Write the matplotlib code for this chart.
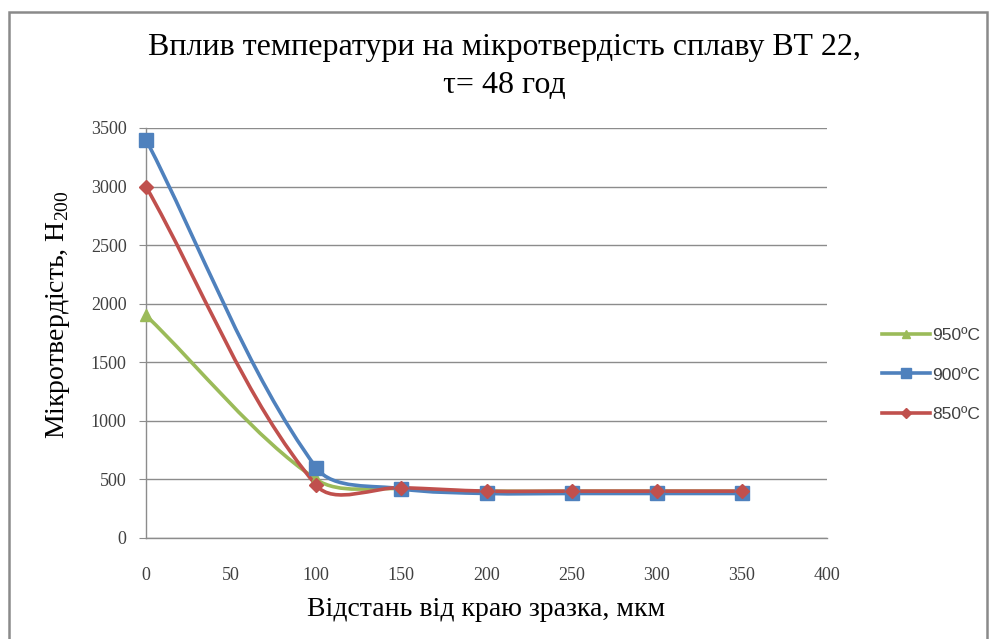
import numpy as np
import matplotlib.pyplot as plt
from matplotlib.path import Path
from matplotlib.patches import PathPatch, Rectangle
from matplotlib.lines import Line2D

plt.rcParams['mathtext.fontset'] = 'custom'
plt.rcParams['mathtext.rm'] = 'Liberation Serif'

# distance from the sample edge, um
distance = [0, 100, 150, 200, 250, 300, 350]

# microhardness H200 for each annealing temperature
h_950 = [1900, 500, 420, 400, 400, 400, 400]
h_900 = [3400, 600, 420, 380, 380, 380, 380]
h_850 = [3000, 450, 430, 400, 400, 400, 400]

series_labels = ['950ºC', '900ºC', '850ºC']

GREEN = '#9BBB59'
BLUE = '#4F81BD'
RED = '#C0504D'


def smooth_path(ax, xs, ys, tension=0.32):
    # excel-like smoothed line: cubic bezier through the points,
    # tangents worked out in screen space so the shape looks right
    pts = ax.transData.transform(np.column_stack([xs, ys]))
    n = len(pts)
    verts = [pts[0]]
    codes = [Path.MOVETO]
    for i in range(n - 1):
        p0 = pts[i]
        p1 = pts[i + 1]
        seg = np.hypot(*(p1 - p0))
        if i == 0:
            d0 = p1 - p0
        else:
            d0 = p1 - pts[i - 1]
        if i + 2 < n:
            d1 = pts[i + 2] - p0
        else:
            d1 = p1 - p0
        d0 = d0 / np.hypot(*d0)
        d1 = d1 / np.hypot(*d1)
        c1 = p0 + tension * seg * d0
        c2 = p1 - tension * seg * d1
        verts += [c1, c2, p1]
        codes += [Path.CURVE4] * 3
    verts = ax.transData.inverted().transform(np.array(verts))
    return Path(verts, codes)


fig = plt.figure(figsize=(9.96, 6.39), dpi=100)
ax = fig.add_axes([146 / 996, 1 - 538 / 639, (827 - 146) / 996, (538 - 128) / 639])

ax.set_xlim(0, 400)
ax.set_ylim(0, 3500)
ax.set_xticks(np.arange(0, 401, 50))
ax.set_yticks(np.arange(0, 3501, 500))

ax.grid(axis='y', color='#8C8C8C', linewidth=1.0)
ax.set_axisbelow(True)
for side in ['top', 'right']:
    ax.spines[side].set_visible(False)
for side in ['left', 'bottom']:
    ax.spines[side].set_color('#8C8C8C')
    ax.spines[side].set_linewidth(1.0)

ax.tick_params(axis='y', direction='out', length=5, color='#8C8C8C', pad=9)
ax.tick_params(axis='x', direction='out', length=0, pad=21)
for lab in ax.get_xticklabels() + ax.get_yticklabels():
    lab.set_fontfamily('Liberation Serif')
    lab.set_fontsize(13)
    lab.set_color('#404040')

series = [
    (h_950, GREEN, '^', 9),
    (h_900, BLUE, 's', 10),
    (h_850, RED, 'D', 7.5),
]
handles = []
for (vals, col, mk, ms), lbl in zip(series, series_labels):
    path = smooth_path(ax, distance, vals)
    ax.add_patch(PathPatch(path, facecolor='none', edgecolor=col, linewidth=2.6,
                           capstyle='round', joinstyle='round', zorder=3))
    ax.plot(distance, vals, linestyle='none', marker=mk, markersize=ms,
            color=col, markeredgecolor=col, zorder=4, clip_on=False)
    handles.append(Line2D([], [], color=col, linewidth=2.6, marker=mk,
                          markersize=ms * 0.7, label=lbl))

leg = fig.legend(handles=handles, loc='center left', bbox_to_anchor=(866 / 996, 1 - 375 / 639),
                 frameon=False, handlelength=2.8, handletextpad=0.1, labelspacing=1.4,
                 prop={'family': 'Liberation Sans', 'size': 12.5})
for t in leg.get_texts():
    t.set_color('#404040')

ax.set_title('Вплив температури на мікротвердість сплаву ВТ 22,\nτ= 48 год',
             fontfamily='Liberation Serif', fontsize=23, linespacing=1.4, pad=25,
             x=0.526)
ax.set_xlabel('Відстань від краю зразка, мкм', fontfamily='Liberation Serif',
              fontsize=20, labelpad=9)
ax.set_ylabel('Мікротвердість, Н$_{\\mathrm{200}}$', fontfamily='Liberation Serif',
              fontsize=20)
ax.yaxis.set_label_coords(-0.108, 0.545)

# chart frame
fig.patches.append(Rectangle((9 / 996, -0.05), (987 - 9) / 996, 1.05 - 12 / 639,
                             transform=fig.transFigure, fill=False,
                             edgecolor='#8A8A8A', linewidth=1.8))

fig.savefig('out.png', dpi=100)
